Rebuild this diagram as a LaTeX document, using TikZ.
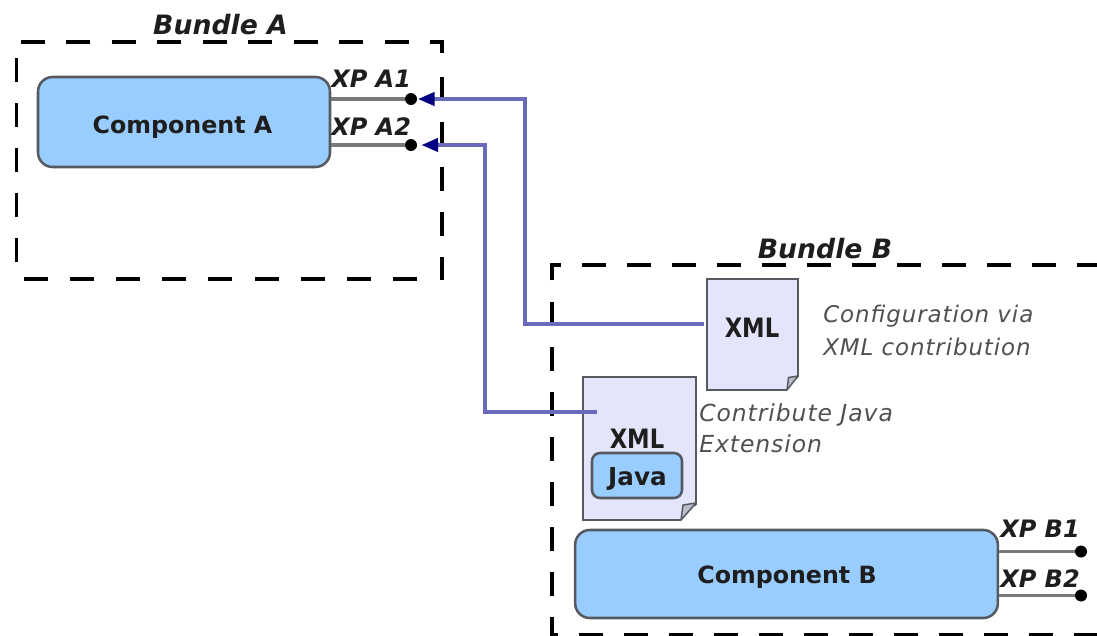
\documentclass[tikz,border=0pt]{standalone}
\usepackage{fontspec}
\setmainfont{DejaVu Sans}
\newfontfamily\notefont[LetterSpace=4]{DejaVu Sans}
\usetikzlibrary{arrows.meta}
\definecolor{compfill}{HTML}{99CCFF}
\definecolor{edge}{HTML}{555A60}
\definecolor{docfill}{HTML}{E4E4FB}
\definecolor{wire}{HTML}{6A6ABC}
\definecolor{tipblue}{HTML}{000080}
\definecolor{ink}{HTML}{1E1E1E}
\definecolor{notegray}{HTML}{505050}
\tikzset{
  px/.style={x=0.75pt,y=-0.75pt},
  bundletop/.style={draw=black,line width=2.6pt,dash pattern=on 18pt off 16.1pt,miter limit=10},
  bundleside/.style={draw=black,line width=2.6pt,dash pattern=on 18pt off 15.75pt,miter limit=10},
  bundlebottom/.style={draw=black,line width=2.6pt,dash pattern=on 18pt off 16.6pt},
  comp/.style={draw=edge,fill=compfill,line width=1.9pt,rounded corners=11pt,inner sep=0pt},
  doc/.style={draw=edge,fill=docfill,line width=1.9pt,inner sep=0pt},
  fold/.style={draw=edge,fill=docfill!60!gray,line width=1.1pt,line join=round},
  port/.style={draw=gray!95!black,line width=2.6pt},
  portdot/.style={circle,fill=black,inner sep=0pt,minimum size=9pt},
  wirearrow/.style={draw=wire,line width=2.5pt,-{Triangle[length=12.5pt,width=10pt,fill=tipblue,color=tipblue]}},
  boldlabel/.style={font=\fontsize{17.8}{20}\selectfont\bfseries,text=ink,inner sep=0pt,anchor=base},
  xmllabel/.style={font=\fontsize{20}{22}\selectfont\bfseries,text=ink,inner sep=0pt,anchor=base},
  javalabel/.style={font=\fontsize{18.5}{20}\selectfont\bfseries,text=ink,inner sep=0pt,anchor=base},
  titlelabel/.style={font=\fontsize{20}{22}\selectfont\bfseries\itshape,text=ink,inner sep=0pt,anchor=base},
  xplabel/.style={font=\fontsize{18}{20}\selectfont\bfseries\itshape,text=ink,inner sep=0pt,anchor=base west},
  note/.style={font=\notefont\fontsize{17.2}{20}\selectfont\itshape,text=notegray,inner sep=0pt,anchor=base west},
  notewide/.style={note,font=\notefont\fontsize{17.6}{20}\selectfont\itshape},
}
\begin{document}
\begin{tikzpicture}[px]
\useasboundingbox (0,0) rectangle (1097,636);
% bundles
\draw[bundletop] (21,42) -- (442,42) -- (442,53);
\draw[bundleside] (442,77) -- (442,280);
\draw[bundlebottom] (417,279) -- (22,279);
\draw[bundleside] (16.5,58) -- (16.5,263);
\draw[bundleside] (552,280) -- (552,265) -- (1110,265);
\draw[bundleside] (552,302) -- (552,635) -- (1110,635);
\node[titlelabel] (bundleA) at (220.5,34) {Bundle A};
\node[titlelabel] (bundleB) at (825,258) {Bundle B};
% components
\node[comp,minimum width=219pt,minimum height=67.5pt] (compA) at (184,122) {};
\node[boldlabel] (compAt) at (182.5,133) {Component A};
\node[comp,minimum width=317pt,minimum height=66pt] (compB) at (786.5,574) {};
\node[boldlabel] (compBt) at (787,583) {Component B};
% ports
\node[portdot] (a1) at (411,99) {};
\node[portdot] (a2) at (411,145) {};
\node[portdot] (b1) at (1081,551.5) {};
\node[portdot] (b2) at (1081,595.5) {};
\draw[port] (compA.east |- a1) -- (a1);
\draw[port] (compA.east |- a2) -- (a2);
\draw[port] (compB.east |- b1) -- (b1);
\draw[port] (compB.east |- b2) -- (b2);
\node[xplabel] (xa1) at (331,87) {XP A1};
\node[xplabel] (xa2) at (331,135) {XP A2};
\node[xplabel] (xb1) at (1000,537) {XP B1};
\node[xplabel] (xb2) at (1000,587) {XP B2};
% documents
\node[doc,minimum width=68.25pt,minimum height=83.25pt] (doc1) at (752.5,334.5) {};
\fill[white] (799.5,376) -- (799.5,391.5) -- (786.5,391.5) -- cycle;
\draw[fold] (798,376) -- (787,390) -- (788.5,377.5) -- cycle;
\node[xmllabel] (doc1t) at (752,337) {\scalebox{0.85}[1]{XML}};
\node[doc,minimum width=84.75pt,minimum height=107.25pt] (doc2) at (639.5,448.5) {};
\fill[white] (697.5,504) -- (697.5,521.5) -- (680.5,521.5) -- cycle;
\draw[fold] (696,503) -- (681,520) -- (683,505) -- cycle;
\node[xmllabel] (doc2t) at (637,448) {\scalebox{0.85}[1]{XML}};
\node[comp,rounded corners=6pt,minimum width=67.5pt,minimum height=33.75pt] (java) at (637,475.5) {};
\node[javalabel] (javat) at (637.5,485) {Java};
% notes
\node[note] (n1) at (823,322.7) {Configuration via};
\node[note] (n2) at (823,355) {XML contribution};
\node[notewide] (n3) at (699,421) {Contribute Java};
\node[notewide] (n4) at (699,452.7) {Extension};
% extension wires
\coordinate (w1end) at (704,324);
\coordinate (w2end) at (597,412);
\coordinate (a1tip) at (418,99);
\coordinate (a2tip) at (421.5,145);
\draw[wirearrow] (w1end) -| (525,99) -- (a1tip);
\draw[wirearrow] (w2end) -- (485,412) |- (a2tip);
\end{tikzpicture}
\end{document}
